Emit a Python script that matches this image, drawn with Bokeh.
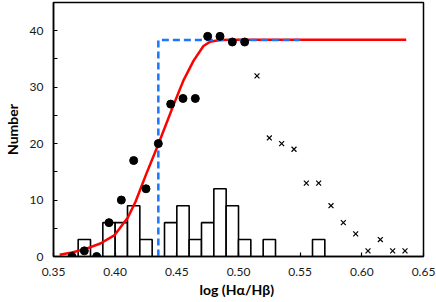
from bokeh.plotting import figure
from bokeh.models import Range1d, FixedTicker, NumeralTickFormatter
from bokeh.embed import file_html
from bokeh.resources import INLINE

# Histogram (bins of width 0.01, only non-empty bins)
bin_left = [0.37, 0.39, 0.40, 0.41, 0.42, 0.44, 0.45, 0.46, 0.47, 0.48, 0.49, 0.50, 0.52, 0.56]
bin_right = [0.38, 0.40, 0.41, 0.42, 0.43, 0.45, 0.46, 0.47, 0.48, 0.49, 0.50, 0.51, 0.53, 0.57]
bin_count = [3, 6, 6, 9, 3, 6, 9, 3, 6, 12, 9, 3, 3, 3]

# Cumulative points (filled circles)
dot_x = [0.365, 0.375, 0.385, 0.395, 0.405, 0.415, 0.425, 0.435, 0.445, 0.455, 0.465, 0.475, 0.485, 0.495, 0.505]
dot_y = [0, 1, 0, 6, 10, 17, 12, 20, 27, 28, 28, 39, 39, 38, 38]

# Crosses
cross_x = [0.515, 0.525, 0.535, 0.545, 0.555, 0.565, 0.575, 0.585, 0.595, 0.605, 0.615, 0.625, 0.635]
cross_y = [32, 21, 20, 19, 13, 13, 9, 6, 4, 1, 3, 1, 1]

# Fitted curve (red)
curve_x = [0.355, 0.365, 0.3756, 0.388, 0.3996, 0.4103, 0.4165, 0.425, 0.435, 0.4476,
           0.4556, 0.4636, 0.4716, 0.477, 0.485, 0.495, 0.636]
curve_y = [0.3, 0.7, 1.3, 2.3, 3.8, 6.9, 9.7, 14.5, 19.9, 27.0,
           31.3, 34.7, 37.3, 38.05, 38.35, 38.4, 38.4]

# Step (blue dashed)
step_x = [0.435, 0.435, 0.55]
step_y = [0, 38.35, 38.35]

x_ticks = [0.35, 0.40, 0.45, 0.50, 0.55, 0.60, 0.65]
y_ticks = [0, 10, 20, 30, 40]
y_minor = [5, 15, 25, 35]

p = figure(width=436, height=302, output_backend="svg", toolbar_location=None,
           x_range=Range1d(0.35, 0.65), y_range=Range1d(0, 45),
           min_border_left=48, min_border_right=13, min_border_top=2, min_border_bottom=46)

p.background_fill_color = "white"
p.border_fill_color = "white"
p.outline_line_color = "black"
p.outline_line_width = 1.5
p.xgrid.visible = False
p.ygrid.visible = False

p.quad(left=bin_left, right=bin_right, bottom=0, top=bin_count,
       fill_color="white", line_color="black", line_width=1.6)
p.line(curve_x, curve_y, line_color="#ff0000", line_width=2.5)
p.line(step_x, step_y, line_color="#1a75ff", line_width=2.5, line_dash="7 4")
p.scatter(dot_x, dot_y, marker="circle", size=8, fill_color="black", line_color="black")
p.scatter(cross_x, cross_y, marker="x", size=7, line_color="black", line_width=1.2)

p.xaxis.ticker = FixedTicker(ticks=x_ticks)
p.xaxis.formatter = NumeralTickFormatter(format="0.00")
p.yaxis.ticker = FixedTicker(ticks=y_ticks, minor_ticks=y_minor)

for ax in (p.xaxis[0], p.yaxis[0]):
    ax.axis_line_color = "black"
    ax.axis_line_width = 1.5
    ax.major_tick_in = 4
    ax.major_tick_out = 0
    ax.minor_tick_in = 4
    ax.minor_tick_out = 0
    ax.major_tick_line_color = "black"
    ax.minor_tick_line_color = "black"
    ax.major_tick_line_width = 1.2
    ax.minor_tick_line_width = 1.2
    ax.major_label_text_font = "Lato"
    ax.major_label_text_font_size = "12px"
    ax.major_label_text_color = "#1a1a1a"
    ax.axis_label_text_font = "Lato"
    ax.axis_label_text_font_size = "14px"
    ax.axis_label_text_font_style = "bold"
    ax.axis_label_text_color = "black"

p.xaxis.minor_tick_line_color = None
p.xaxis.axis_label = "log  (H\u03b1/H\u03b2)"
p.yaxis.axis_label = "Number"
p.xaxis.major_label_standoff = 11
p.xaxis.axis_label_standoff = 2
p.yaxis.major_label_standoff = 10
p.yaxis.axis_label_standoff = 6

open("out.html", "w").write(file_html(p, INLINE))
